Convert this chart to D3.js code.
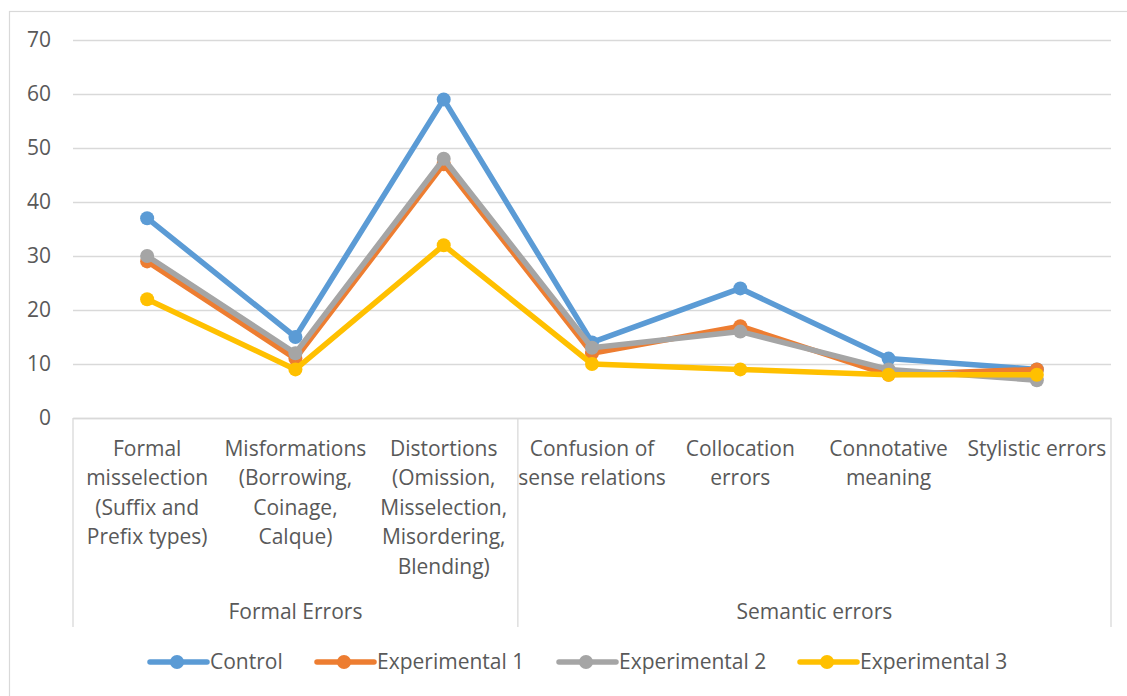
<!DOCTYPE html>
<html>
<head>
<meta charset="utf-8">
<script src="https://cdn.jsdelivr.net/npm/d3@7"></script>
<style>
  html, body { margin: 0; padding: 0; background: #fff; }
  svg { display: block; }
  text { font-family: "Open Sans", "Noto Sans", sans-serif; fill: #595959; }
</style>
</head>
<body>
<svg id="chart" width="1127" height="696"></svg>
<script>
// Error categories (multi-line labels) and their parent groups
const categories = [
  ["Formal", "misselection", "(Suffix and", "Prefix types)"],
  ["Misformations", "(Borrowing,", "Coinage,", "Calque)"],
  ["Distortions", "(Omission,", "Misselection,", "Misordering,", "Blending)"],
  ["Confusion of", "sense relations"],
  ["Collocation", "errors"],
  ["Connotative", "meaning"],
  ["Stylistic errors"]
];
const groups = [
  { name: "Formal Errors", from: 0, to: 2 },
  { name: "Semantic errors", from: 3, to: 6 }
];
const yTicks = [0, 10, 20, 30, 40, 50, 60, 70];

// Error counts per group of learners
const control       = [37, 15, 59, 14, 24, 11, 9];
const experimental1 = [29, 11, 47, 12, 17, 8, 9];
const experimental2 = [30, 12, 48, 13, 16, 9, 7];
const experimental3 = [22, 9, 32, 10, 9, 8, 8];

const series = [
  { name: "Control", values: control, color: "#5B9BD5" },
  { name: "Experimental 1", values: experimental1, color: "#ED7D31" },
  { name: "Experimental 2", values: experimental2, color: "#A5A5A5" },
  { name: "Experimental 3", values: experimental3, color: "#FFC000" }
];

const svg = d3.select("#chart");
const W = 1127, H = 696;
const plot = { left: 73, right: 1111, top: 40, bottom: 418 };
const gridColor = "#D9D9D9";
const fontSize = 21;
const lineWidth = 5.5;
const markerR = 7;

// outer chart frame
svg.append("rect")
  .attr("x", 9.5).attr("y", 11.5)
  .attr("width", W).attr("height", H)
  .attr("fill", "none").attr("stroke", gridColor).attr("stroke-width", 1.2);

const idx = categories.map((d, i) => i);
const x = d3.scaleBand().domain(idx).range([plot.left, plot.right]).padding(0);
const y = d3.scaleLinear().domain([0, 70]).range([plot.bottom, plot.top]);
const cx = i => x(i) + x.bandwidth() / 2;

// value axis with horizontal gridlines
const yAxis = svg.append("g")
  .attr("transform", `translate(${plot.left},0)`)
  .call(d3.axisLeft(y).tickValues(yTicks).tickSize(-(plot.right - plot.left)).tickPadding(22));
yAxis.select(".domain").remove();
yAxis.selectAll(".tick line").attr("stroke", gridColor).attr("stroke-width", 1.3);
yAxis.selectAll(".tick text")
  .attr("font-size", fontSize)
  .style("font-family", "'Open Sans', sans-serif")
  .attr("fill", "#595959");

// category axis
const xAxis = svg.append("g")
  .attr("transform", `translate(0,${plot.bottom})`)
  .call(d3.axisBottom(x).tickSize(0).tickFormat(""));
xAxis.select(".domain").attr("stroke", gridColor).attr("stroke-width", 1.3);
xAxis.selectAll(".tick text").remove();
xAxis.selectAll(".tick").each(function(i) {
  const t = d3.select(this).append("text")
    .attr("text-anchor", "middle")
    .attr("font-size", fontSize)
    .attr("y", 38);
  categories[i].forEach((line, k) => {
    t.append("tspan").attr("x", 0).attr("dy", k === 0 ? 0 : 29.4).text(line);
  });
});

// group separators and group labels
const sepBottom = 627;
const boundaries = [plot.left, x(3), plot.right];
svg.selectAll(".sep").data(boundaries).enter().append("line")
  .attr("x1", d => d).attr("x2", d => d)
  .attr("y1", plot.bottom).attr("y2", sepBottom)
  .attr("stroke", gridColor).attr("stroke-width", 1.3);

svg.selectAll(".grp").data(groups).enter().append("text")
  .attr("x", g => (x(g.from) + x(g.to) + x.bandwidth()) / 2)
  .attr("y", 619)
  .attr("text-anchor", "middle")
  .attr("font-size", fontSize)
  .text(g => g.name);

// series lines and markers
const line = d3.line().x((d, i) => cx(i)).y(d => y(d));
series.forEach(s => {
  const g = svg.append("g");
  g.append("path")
    .datum(s.values)
    .attr("d", line)
    .attr("fill", "none")
    .attr("stroke", s.color)
    .attr("stroke-width", lineWidth)
    .attr("stroke-linejoin", "round");
  g.selectAll("circle").data(s.values).enter().append("circle")
    .attr("cx", (d, i) => cx(i)).attr("cy", d => y(d))
    .attr("r", markerR).attr("fill", s.color);
});

// legend
const legendY = 662;
const legendX = [150, 317, 559, 800];
const legend = svg.append("g");
series.forEach((s, k) => {
  const g = legend.append("g").attr("transform", `translate(${legendX[k]},${legendY})`);
  g.append("line").attr("x1", 0).attr("x2", 57).attr("y1", 0).attr("y2", 0)
    .attr("stroke", s.color).attr("stroke-width", lineWidth).attr("stroke-linecap", "round");
  g.append("circle").attr("cx", 27).attr("cy", 0).attr("r", markerR).attr("fill", s.color);
  g.append("text").attr("x", 60).attr("y", 0).attr("dy", "0.35em")
    .attr("font-size", fontSize).text(s.name);
});
</script>
</body>
</html>
